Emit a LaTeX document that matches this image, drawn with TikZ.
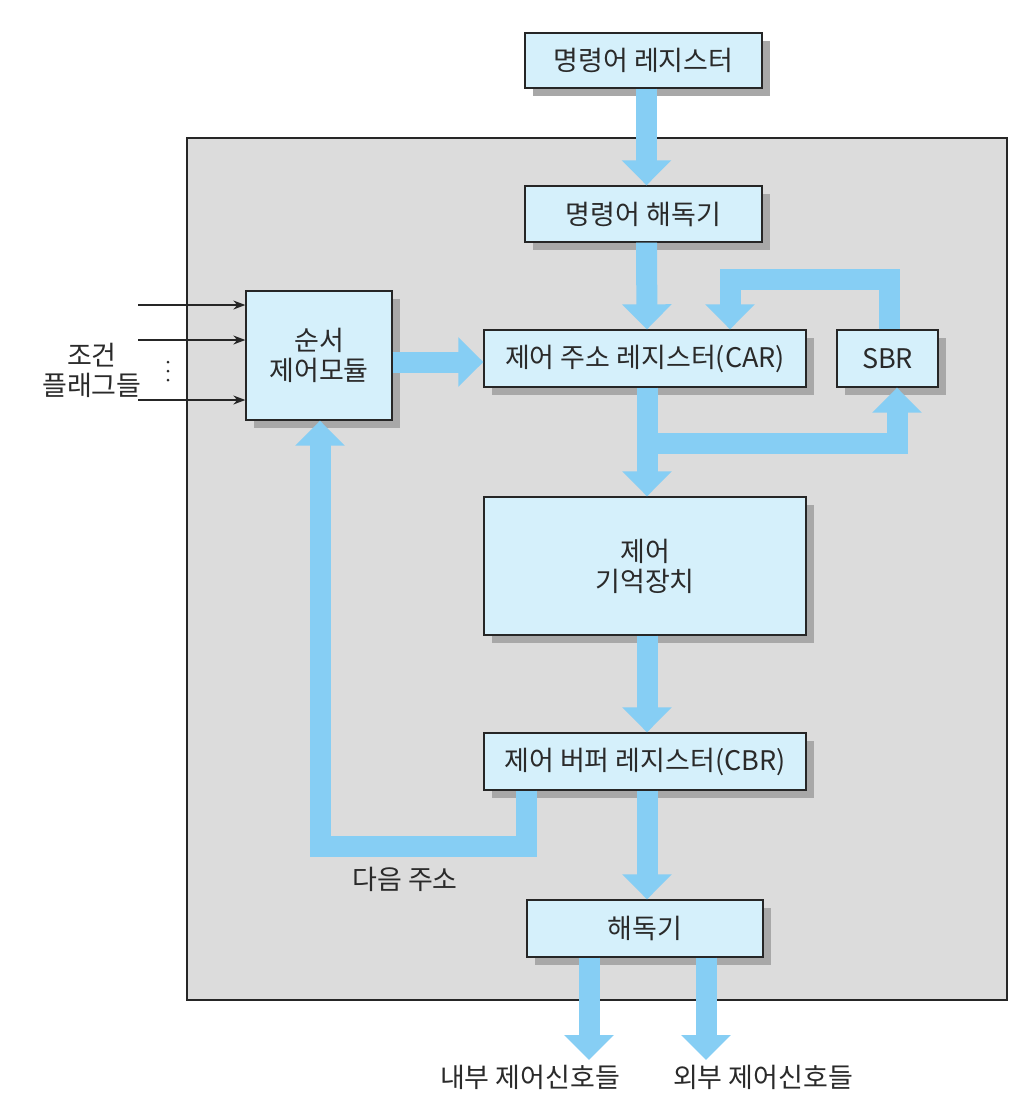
\documentclass[tikz,border=0pt]{standalone}
\usepackage{fontspec}
\setmainfont{Noto Sans CJK KR}
\usetikzlibrary{arrows.meta,shadows,calc}
\definecolor{bgc}{HTML}{DCDCDC}
\definecolor{boxfill}{HTML}{D5F0FB}
\definecolor{flowc}{HTML}{86CEF4}
\definecolor{shadowc}{HTML}{A8A8A8}
\definecolor{txt}{HTML}{2A2A2A}
\tikzset{
  blk/.style={draw=black!85, line width=1.3pt, fill=boxfill, inner sep=0pt,
    text=txt, align=center, font=\fontsize{27}{30}\selectfont,
    drop shadow={shadow xshift=8pt, shadow yshift=-8pt, fill=shadowc, opacity=1}},
  flow/.style={draw=flowc, line width=21pt, line join=miter,
    -{Triangle[width=48pt,length=25pt]}},
  thin/.style={draw=black!85, line width=1.4pt, -{Stealth[length=12pt,width=9pt]}},
  lbl/.style={text=txt, align=center, font=\fontsize{27}{30}\selectfont, inner sep=0pt}
}
\begin{document}
\begin{tikzpicture}[x=1pt,y=-1pt]
\useasboundingbox[fill=white] (0,0) rectangle (1028,1120);
% control unit background
\fill[bgc] (187,138) rectangle (1007,1000);
\draw[black!85, line width=1.5pt] (187,138) rectangle (1007,1000);

% blocks
\node[blk, minimum width=237pt, minimum height=55pt] (ir) at (643.5,60.5) {명령어 레지스터};
\node[blk, minimum width=237pt, minimum height=56pt] (idec) at (643.5,214) {명령어 해독기};
\node[blk, minimum width=146pt, minimum height=129pt] (seq) at (319,355.5) {순서\\제어모듈};
\node[blk, minimum width=322pt, minimum height=57pt] (car) at (645,358.5) {제어 주소 레지스터(CAR)};
\node[blk, minimum width=101pt, minimum height=57pt] (sbr) at (887.5,358.5) {SBR};
\node[blk, minimum width=322pt, minimum height=138pt] (cm) at (645,566) {제어\\기억장치};
\node[blk, minimum width=322pt, minimum height=57pt] (cbr) at (645,761.5) {제어 버퍼 레지스터(CBR)};
\node[blk, minimum width=236pt, minimum height=57pt] (dec) at (645,928.5) {해독기};

% labels
\node[lbl] (flags) at (92,370) {조건\\플래그들};
\node[lbl] (next) at (405,879) {다음 주소};
\node[lbl, anchor=north] (intsig) at (530,1065) {내부 제어신호들};
\node[lbl, anchor=north] (extsig) at (763,1065) {외부 제어신호들};

% condition flag inputs
\coordinate (f1) at (138,305);
\coordinate (f2) at (138,340);
\coordinate (f3) at (138,400);
\draw[thin] (f1) -- (f1 -| seq.west);
\draw[thin] (f2) -- (f2 -| seq.west);
\draw[thin] (f3) -- (f3 -| seq.west);
\fill[txt] (168,362) circle (1.5pt) (168,371) circle (1.5pt) (168,380) circle (1.5pt);

% main flow
\draw[flow] ([xshift=3pt]ir.south) -- ([xshift=3pt]idec.north);
\draw[flow] ([xshift=3pt]idec.south) -- ([xshift=2pt]car.north);
\draw[flow] (seq.east |- 0,362) -- (car.west |- 0,362);
\draw[flow] ([xshift=2pt]car.south) -- ([xshift=2pt]cm.north);
\draw[flow] ([xshift=2pt]cm.south) -- ([xshift=2pt]cbr.north);
\draw[flow] ([xshift=2pt]cbr.south) -- ([xshift=2pt]dec.north);

% CAR <-> SBR
\coordinate (br) at ($(car.south)+(2,56)$);
\draw[flow] (br) -| ([xshift=9.5pt]sbr.south);
\draw[flow] ([xshift=1.5pt]sbr.north) -- ++(0,-50) -| ([xshift=85pt]car.north);

% next address loop
\draw[flow] ([xshift=-119pt]cbr.south) -- ++(0,56) -| ([xshift=1pt]seq.south);

% outputs
\draw[flow] ([xshift=-56pt]dec.south) -- ([xshift=-56pt]dec.south |- 0,1060);
\draw[flow] ([xshift=61pt]dec.south) -- ([xshift=61pt]dec.south |- 0,1060);
\end{tikzpicture}
\end{document}
